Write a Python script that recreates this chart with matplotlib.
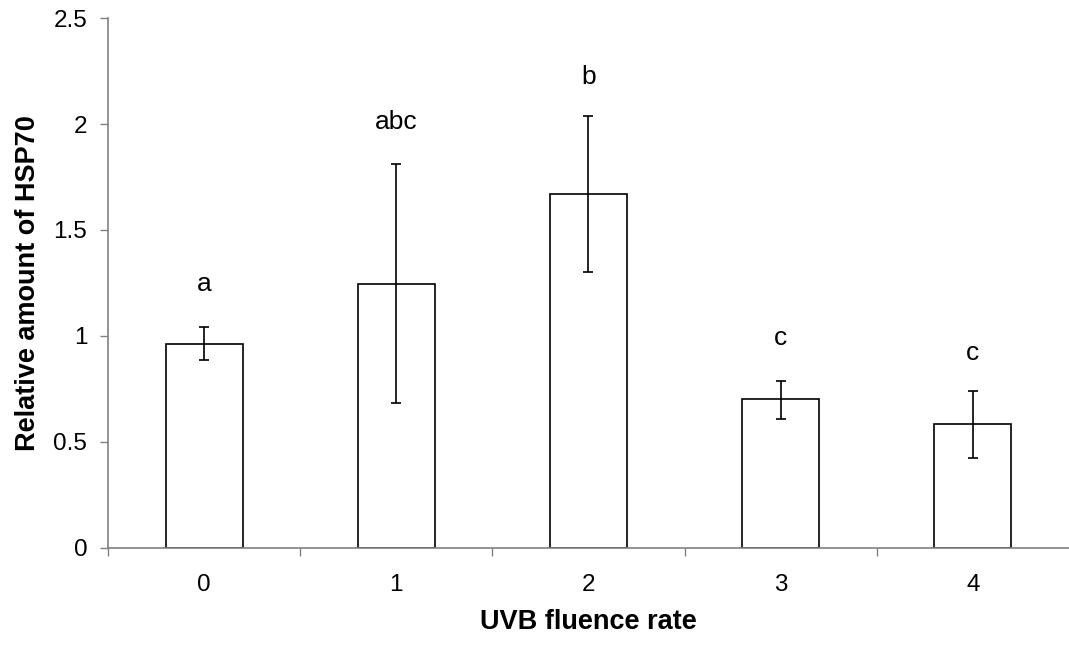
import matplotlib
matplotlib.use("Agg")
from matplotlib import pyplot as plt
from matplotlib.ticker import FixedLocator

plt.rcParams["font.family"] = ["Liberation Sans", "DejaVu Sans"]

# values
fluence = ["0", "1", "2", "3", "4"]
hsp70 = [0.962, 1.247, 1.672, 0.700, 0.583]
err_low = [0.885, 0.685, 1.303, 0.608, 0.425]
err_high = [1.040, 1.810, 2.037, 0.788, 0.742]
letters = ["a", "abc", "b", "c", "c"]
letter_y = [1.245, 2.01, 2.22, 0.99, 0.92]

fig = plt.figure(figsize=(10.69, 6.46), dpi=100)
ax = fig.add_axes([0.101, 0.152, 0.899, 0.820])

x = list(range(len(fluence)))
yerr = [[h - lo for h, lo in zip(hsp70, err_low)],
        [hi - h for h, hi in zip(hsp70, err_high)]]

ax.bar(x, hsp70, width=0.4, color="white", edgecolor="black", linewidth=1.2, zorder=2)
ax.errorbar(x, hsp70, yerr=yerr, fmt="none", ecolor="black", elinewidth=1.2,
            capsize=3.5, capthick=1.2, zorder=3)

for xi, lab, ly in zip(x, letters, letter_y):
    ax.text(xi, ly, lab, ha="center", va="center", fontsize=19)

ax.set_xlim(-0.5, 4.5)
ax.set_ylim(0, 2.5)
ax.set_yticks([0, 0.5, 1, 1.5, 2, 2.5])
ax.set_yticklabels(["0", "0.5", "1", "1.5", "2", "2.5"])
ax.set_xticks(x)
ax.set_xticklabels(fluence)
ax.xaxis.set_minor_locator(FixedLocator([-0.5, 0.5, 1.5, 2.5, 3.5]))
ax.tick_params(axis="x", which="major", length=0, pad=19, labelsize=17.5)
ax.tick_params(axis="x", which="minor", length=6, width=1, color="#808080")
ax.tick_params(axis="y", length=6, width=1, color="#808080", labelsize=17.5, pad=9)

for side in ["top", "right"]:
    ax.spines[side].set_visible(False)
for side in ["left", "bottom"]:
    ax.spines[side].set_color("#808080")
    ax.spines[side].set_linewidth(1.2)

ax.set_xlabel("UVB fluence rate", fontsize=19.5, fontweight="bold", labelpad=9)
ax.set_ylabel("Relative amount of HSP70", fontsize=19.5, fontweight="bold", labelpad=9)

fig.savefig("out.png", dpi=100)
